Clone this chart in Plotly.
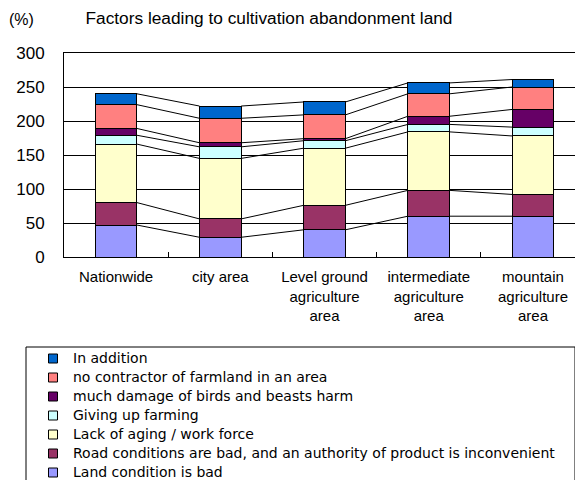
import plotly.graph_objects as go

categories = ["Nationwide", "city area", "Level ground<br>agriculture<br>area",
              "intermediate<br>agriculture<br>area", "mountain<br>agriculture<br>area"]

series_names = [
    "Land condition is bad",
    "Road conditions are bad, and an authority of product is inconvenient",
    "Lack of aging / work force",
    "Giving up farming",
    "much damage of birds and beasts harm",
    "no contractor of farmland in an area",
    "In addition",
]
land = [47, 29, 40, 60, 60]
road = [33, 27, 36, 38, 32]
lack = [86, 89, 84, 86, 86]
giving_up = [13, 17, 11, 11, 13]
birds = [10, 6, 3, 12, 26]
contractor = [35, 36, 35, 33, 33]
in_addition = [16, 18, 19, 16, 11]
series_values = [land, road, lack, giving_up, birds, contractor, in_addition]
colors = ["#9999FF", "#993366", "#FFFFCC", "#CCFFFF", "#660066", "#FF8080", "#0066CC"]

FONT = "Liberation Sans, Arial, sans-serif"
LFONT = "DejaVu Sans, sans-serif"
xs = list(range(len(categories)))
bar_w = 0.4

# page is offset by the browser's 8px body margin; layout positions in figure px
OFF = 8
W, H = 583, 480
PL, PT, PB = 64 - OFF, 53 - OFF, 257 - OFF
PW, PHt = 519, PB - PT


def px_x(x):
    return (x - OFF - PL) / PW


def px_y(y):
    return (PB - (y - OFF)) / PHt


fig = go.Figure()
for name, vals, col in zip(series_names, series_values, colors):
    fig.add_trace(go.Bar(x=xs, y=vals, name=name, width=bar_w,
                         marker=dict(color=col, line=dict(color="black", width=1)),
                         showlegend=False))

# series lines between stacked segments
cum = [0] * len(categories)
for vals in series_values:
    cum = [c + v for c, v in zip(cum, vals)]
    lx, ly = [], []
    for i in range(len(categories) - 1):
        lx += [xs[i] + bar_w / 2, xs[i + 1] - bar_w / 2, None]
        ly += [cum[i], cum[i + 1], None]
    fig.add_trace(go.Scatter(x=lx, y=ly, mode="lines", line=dict(color="black", width=1),
                             showlegend=False, hoverinfo="skip"))

# legend entries
for name, col in zip(series_names, colors):
    fig.add_trace(go.Scatter(x=[None], y=[None], mode="markers",
                             name='<span style="font-size:14px">' + name + "</span>",
                             marker=dict(symbol="square", size=9, color=col,
                                         line=dict(color="black", width=1))))

fig.update_layout(
    width=W, height=H,
    margin=dict(l=PL, r=W - PL - PW, t=PT, b=H - PB, autoexpand=False),
    barmode="stack",
    plot_bgcolor="white", paper_bgcolor="white",
    font=dict(family=FONT, color="black", size=15),
    title=dict(text="Factors leading to cultivation abandonment land",
               x=(270 - 1 - OFF) / W, xanchor="center", y=1 - (17.5 - OFF) / H,
               yanchor="middle", font=dict(size=17.3, family=FONT, color="black")),
    legend=dict(traceorder="reversed", x=px_x(73 - 40), xanchor="left",
                y=px_y(359 - 15), yanchor="top", bgcolor="rgba(0,0,0,0)",
                font=dict(size=12, family=LFONT), tracegroupgap=0),
    xaxis=dict(range=[-0.5, 4.48], tickvals=xs, ticktext=categories, ticks="",
               showline=True, linecolor="black", linewidth=1, mirror=True,
               showgrid=False, zeroline=False, ticklabelstandoff=6,
               tickfont=dict(size=15, family=FONT),
               minor=dict(tickvals=[0.5, 1.5, 2.5, 3.5], ticks="inside", ticklen=5,
                          tickcolor="black", showgrid=False)),
    yaxis=dict(range=[0, 300], dtick=50, showgrid=True, gridcolor="black", gridwidth=1,
               showline=True, linecolor="black", linewidth=1, zeroline=False,
               ticks="", ticklabelstandoff=15, tickfont=dict(size=17, family=FONT)),
    shapes=[dict(type="rect", xref="paper", yref="paper",
                 x0=px_x(26), x1=px_x(575), y0=px_y(347), y1=px_y(520),
                 line=dict(color="black", width=1), fillcolor="rgba(0,0,0,0)")],
    annotations=[dict(text="(%)", xref="paper", yref="paper",
                      x=px_x(21), y=px_y(20), xanchor="center",
                      yanchor="middle", showarrow=False,
                      font=dict(size=16, family=FONT))],
)

fig.write_html("out.html")
